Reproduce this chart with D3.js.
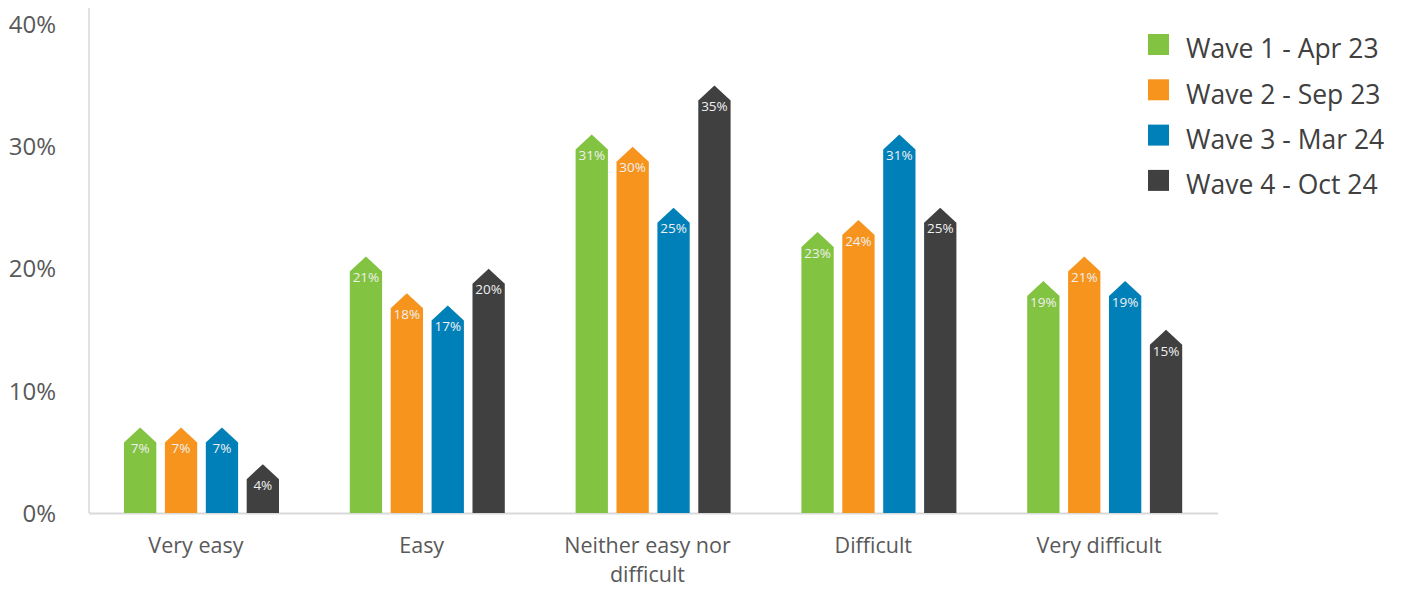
<!DOCTYPE html>
<html>
<head>
<meta charset="utf-8">
<script src="https://cdn.jsdelivr.net/npm/d3@7"></script>
<style>
  html, body { margin: 0; padding: 0; background: #ffffff; }
  svg { display: block; font-family: "Open Sans", "Noto Sans", sans-serif; }
</style>
</head>
<body>
<svg id="chart" width="1401" height="590"></svg>
<script>
// Survey responses by wave (percent)
const categories = ["Very easy", "Easy", "Neither easy nor difficult", "Difficult", "Very difficult"];
const categoryLines = [["Very easy"], ["Easy"], ["Neither easy nor", "difficult"], ["Difficult"], ["Very difficult"]];
const seriesNames = ["Wave 1 - Apr 23", "Wave 2 - Sep 23", "Wave 3 - Mar 24", "Wave 4 - Oct 24"];
const wave1 = [7, 21, 31, 23, 19];
const wave2 = [7, 18, 30, 24, 21];
const wave3 = [7, 17, 25, 31, 19];
const wave4 = [4, 20, 35, 25, 15];
const yTicks = [0, 10, 20, 30, 40];
const colors = ["#82c341", "#f7941d", "#0080b9", "#404040"];

const series = [wave1, wave2, wave3, wave4];

const svg = d3.select("#chart");
const x0 = 89, x1 = 1218, yBase = 513, yTop = 24.5;

const x = d3.scaleBand().domain(categories).range([x0, x1]);
const xs = d3.scaleBand().domain(d3.range(series.length))
  .range([35, 190]).paddingInner(0.21).paddingOuter(0);
const y = d3.scaleLinear().domain([0, 40]).range([yBase, yTop]);

// axis lines
svg.append("line").attr("x1", x0).attr("x2", x0).attr("y1", 8).attr("y2", yBase)
  .attr("stroke", "#d9d9d9").attr("stroke-width", 1.5);
svg.append("line").attr("x1", x0).attr("x2", x1).attr("y1", yBase + 0.5).attr("y2", yBase + 0.5)
  .attr("stroke", "#d9d9d9").attr("stroke-width", 2);

// y tick labels
svg.append("g").selectAll("text").data(yTicks).join("text")
  .attr("x", 56).attr("y", d => y(d)).attr("dy", "0.36em")
  .attr("text-anchor", "end").attr("fill", "#595959").attr("font-size", 24)
  .text(d => d + "%");

// x category labels (one text element per line)
const catG = svg.append("g");
categories.forEach((c, i) => {
  const cx = x(c) + x.bandwidth() / 2 - 6;
  categoryLines[i].forEach((line, k) => {
    catG.append("text")
      .attr("x", cx).attr("y", 545 + k * 29.5).attr("dy", "0.35em")
      .attr("text-anchor", "middle").attr("fill", "#595959").attr("font-size", 21.5)
      .text(line);
  });
});

// bars with pointed tops
const bw = xs.bandwidth();
const roof = 15;
series.forEach((vals, s) => {
  const g = svg.append("g");
  vals.forEach((v, i) => {
    const bx = x(categories[i]) + xs(s);
    const tip = y(v);
    const p = d3.path();
    p.moveTo(bx, yBase);
    p.lineTo(bx, tip + roof);
    p.lineTo(bx + bw / 2, tip);
    p.lineTo(bx + bw, tip + roof);
    p.lineTo(bx + bw, yBase);
    p.closePath();
    g.append("path").attr("d", p.toString()).attr("fill", colors[s]);
    g.append("text")
      .attr("x", bx + bw / 2).attr("y", tip + 21).attr("dy", "0.35em")
      .attr("text-anchor", "middle").attr("fill", "#f0f0f0").attr("font-size", 13.5)
      .text(v + "%");
  });
});

// legend
const lg = svg.append("g");
seriesNames.forEach((n, i) => {
  const ly = 34 + i * 45.3;
  lg.append("rect").attr("x", 1148).attr("y", ly).attr("width", 21).attr("height", 21).attr("fill", colors[i]);
  lg.append("text").attr("x", 1186).attr("y", ly + 15).attr("dy", "0.35em")
    .attr("fill", "#404040").attr("font-size", 26.5).text(n);
});
</script>
</body>
</html>
